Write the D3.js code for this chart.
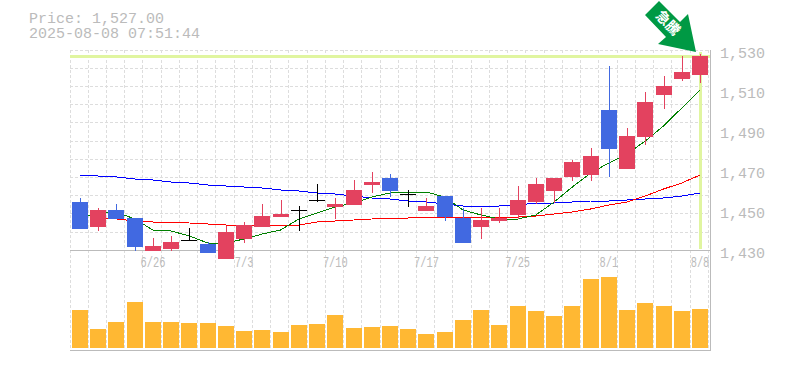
<!DOCTYPE html>
<html>
<head>
<meta charset="utf-8">
<script src="https://cdn.jsdelivr.net/npm/d3@7"></script>
<style>
  html, body { margin: 0; padding: 0; background: #fff; }
  text { font-family: "Liberation Mono", monospace; fill: #bbb; }
</style>
</head>
<body>
<svg id="chart" width="785" height="370"></svg>
<script>
const dates = ['6/20','6/23','6/24','6/25','6/26','6/27','6/30','7/1','7/2','7/3','7/4','7/7','7/8','7/9','7/10','7/11','7/14','7/15','7/16','7/17','7/18','7/22','7/23','7/24','7/25','7/28','7/29','7/30','7/31','8/1','8/4','8/5','8/6','8/7','8/8'];
const labelDates = ['6/26','7/3','7/10','7/17','7/25','8/1','8/8'];
const priceTicks = [1530,1510,1490,1470,1450,1430];

const open  = [1454,1441.5,1450,1446,1429.5,1430.5,1435,1433,1425.5,1435.5,1441.5,1446.5,1450,1455,1451.5,1452.5,1462.5,1466,1458,1449.5,1457,1446,1441.5,1444.5,1447.5,1454,1459.5,1466.5,1467.5,1500,1470.5,1486.5,1507.5,1515.5,1517.5];
const high  = [1456,1451,1453,1446,1436,1437,1441,1434,1442,1444,1453,1455,1452,1463,1456,1465,1469,1468,1460,1456,1457,1451,1451,1451,1462,1466,1466,1475,1481,1522,1491,1509,1517,1527,1528];
const low   = [1440.5,1439.5,1445.5,1429.5,1429.5,1429.5,1435,1428.5,1425.5,1433.5,1441.5,1446.5,1439.5,1454,1445.5,1452.5,1458.5,1456.5,1451.5,1449.5,1444.5,1433.5,1435.5,1443.5,1445.5,1453,1453.5,1464.5,1464.5,1466.5,1470.5,1482.5,1500.5,1514.5,1513.5];
const close = [1440.5,1450,1445.5,1431.5,1432,1434,1435,1428.5,1439,1442.5,1447,1448,1450,1455,1453,1460,1464,1459.5,1458,1452,1446.5,1433.5,1445,1446,1455,1463,1466,1474,1477,1480.5,1487,1504,1512,1519,1527];
const volume = [38,19,26,46,26,26,25,25,22,17,18,16,23,24,33,20,21,22,19,14,16,28,38,23,42,37,32,42,69,71,38,45,42,37,39];

const maShort = [1446,1448.5,1449,1445.5,1440,1439.5,1437,1433.5,1433.5,1435.5,1438,1440,1445.5,1448.5,1451.5,1453.5,1456.5,1458.5,1459,1459,1456.5,1450,1447.5,1445.5,1445.5,1447.5,1454,1461.5,1468.5,1473.5,1478,1484.5,1492,1501,1510];
const maMid   = [null,1446,1445.5,1444.5,1444,1444,1443.5,1443,1442.5,1442.5,1442.5,1442.5,1442.5,1444,1444.5,1445,1445.5,1446,1446,1446.5,1446.5,1446.5,1446.5,1446.5,1446.5,1447,1448,1449,1450.5,1452.5,1454,1457,1460.5,1463.5,1467.5];
const maLong  = [1467.5,1467,1466.5,1465.5,1465,1464,1463.5,1462.5,1462,1461.5,1461,1460,1459.5,1458.5,1458,1457,1456,1455.5,1454.5,1454,1453,1452,1452,1452,1452.5,1453.5,1453.5,1454,1454.5,1454.5,1455,1455.5,1456,1457,1458.5];

const red = '#e3425f', blue = '#4169e1', pale = '#e0f5a0';

const svg = d3.select('#chart');
const x = d3.scalePoint().domain(dates).range([80, 700]);
const y = d3.scaleLinear().domain([1430, 1530]).range([250, 50]);
const yVol = d3.scaleLinear().domain([0, 100]).range([348, 248]);

// grid
const grid = svg.append('g').attr('stroke', '#ddd').attr('stroke-dasharray', '3,2').attr('shape-rendering', 'crispEdges');
dates.forEach(d => {
  const gx = Math.floor(x(d) - 10) + 0.5;
  grid.append('line').attr('x1', gx).attr('x2', gx).attr('y1', 50).attr('y2', 350);
});
grid.append('line').attr('x1', 708.5).attr('x2', 708.5).attr('y1', 50).attr('y2', 350);
d3.range(11).forEach(i => {
  const gy = Math.floor(50 + i * 18.2) + 0.5;
  grid.append('line').attr('x1', 70).attr('x2', 710).attr('y1', gy).attr('y2', gy);
});

// frame
const frame = svg.append('g').attr('stroke', '#bbb').attr('shape-rendering', 'crispEdges');
frame.append('line').attr('x1', 70).attr('x2', 711).attr('y1', 250.5).attr('y2', 250.5);
frame.append('line').attr('x1', 70).attr('x2', 711).attr('y1', 350.5).attr('y2', 350.5);
frame.append('line').attr('x1', 710.5).attr('x2', 710.5).attr('y1', 50).attr('y2', 351);

// last price marker
svg.append('rect').attr('x', 70).attr('width', 640).attr('y', y(close[34]) - 1).attr('height', 3).attr('fill', pale);
svg.append('rect').attr('x', x('8/8') - 1).attr('width', 3).attr('y', 52).attr('height', 197).attr('fill', pale);

// volume
svg.append('g').selectAll('rect').data(dates).join('rect')
  .attr('x', d => Math.round(x(d) - 8))
  .attr('width', 16)
  .attr('y', (d, i) => yVol(volume[i]))
  .attr('height', (d, i) => yVol(0) - yVol(volume[i]))
  .attr('fill', '#ffb833');

// moving averages
const maLine = d3.line().defined(d => d[1] !== null).x(d => x(d[0])).y(d => y(d[1]));
[[maLong, '#0000ff'], [maMid, '#ff0000'], [maShort, '#008000']].forEach(([vals, color]) => {
  svg.append('path')
    .attr('d', maLine(dates.map((d, i) => [d, vals[i]])))
    .attr('fill', 'none').attr('stroke', color).attr('stroke-width', 1)
    .attr('shape-rendering', 'crispEdges');
});

// candles
const candleColor = i => close[i] > open[i] ? red : close[i] < open[i] ? blue : '#000';
const candles = svg.append('g').attr('shape-rendering', 'crispEdges').selectAll('g').data(dates).join('g');
candles.append('line')
  .attr('x1', d => Math.round(x(d)) + 0.5).attr('x2', d => Math.round(x(d)) + 0.5)
  .attr('y1', (d, i) => y(high[i])).attr('y2', (d, i) => y(low[i]))
  .attr('stroke', (d, i) => candleColor(i));
candles.append('rect')
  .attr('x', d => Math.round(x(d) - 8))
  .attr('width', 16)
  .attr('y', (d, i) => y(Math.max(open[i], close[i])))
  .attr('height', (d, i) => Math.max(1, Math.abs(y(open[i]) - y(close[i]))))
  .attr('fill', (d, i) => candleColor(i));

// texts
svg.append('text').attr('x', 29).attr('y', 23).attr('font-size', 15).text('Price: 1,527.00');
svg.append('text').attr('x', 29).attr('y', 38).attr('font-size', 15).text('2025-08-08 07:51:44');
svg.append('g').selectAll('text').data(priceTicks).join('text')
  .attr('x', 720).attr('y', d => y(d) + 8).attr('font-size', 15)
  .text(d => d3.format(',')(d));
svg.append('g').selectAll('text').data(labelDates).join('text')
  .attr('x', d => x(d)).attr('y', 267).attr('text-anchor', 'middle').attr('font-size', 14)
  .attr('textLength', d => d.length * 6.2).attr('lengthAdjust', 'spacingAndGlyphs')
  .text(d => d);

// arrow
svg.append('path').attr('d', 'M659,1L680,22L688,14L696,52L658,44L666,37L645,15Z').attr('fill', '#009944');
svg.append('text').attr('transform', 'translate(668,23) rotate(45)')
  .attr('text-anchor', 'middle').attr('dy', '0.35em')
  .style('font-family', '"Noto Sans CJK JP"').style('font-size', '14px').style('font-weight', 'bold').style('fill', '#fff')
  .text('急騰');
</script>
</body>
</html>
